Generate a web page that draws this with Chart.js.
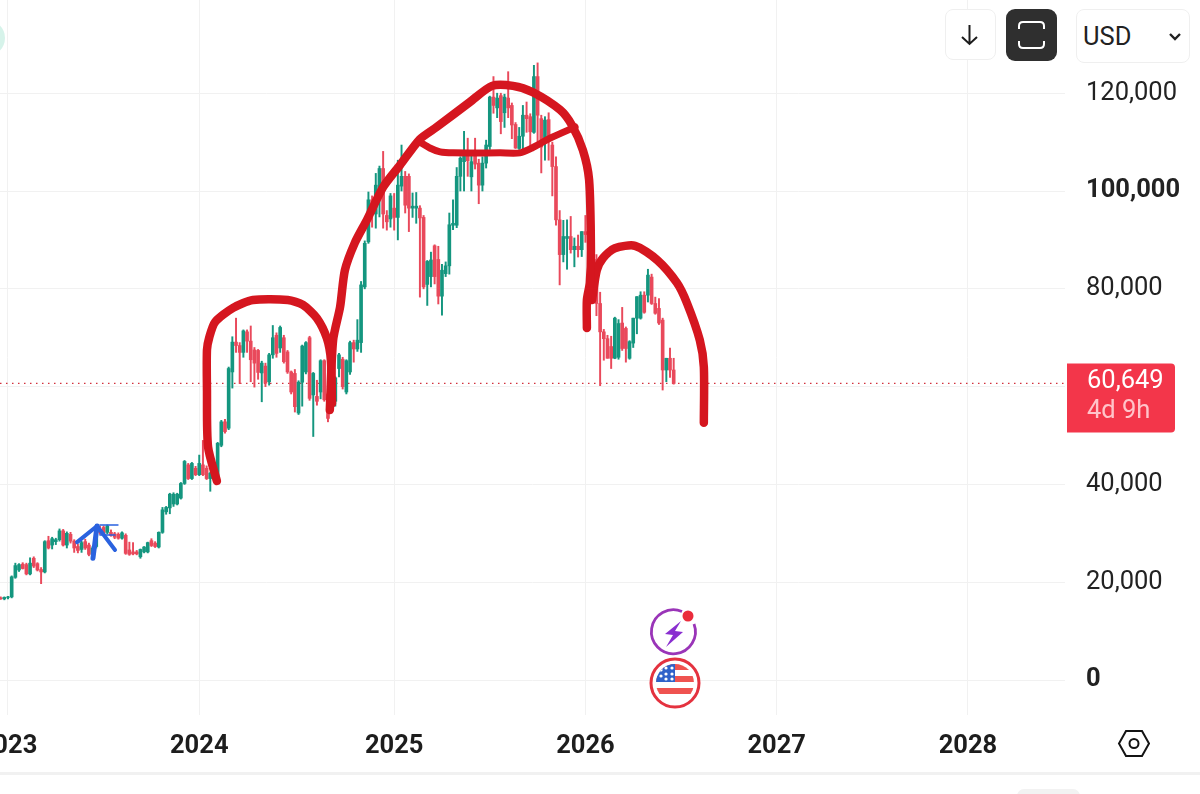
<!DOCTYPE html>
<html>
<head>
<meta charset="utf-8">
<title>BTC USD weekly</title>
<script src="https://cdn.jsdelivr.net/npm/chart.js@4"></script>
<style>
    html, body { margin: 0; padding: 0; background: #fff; overflow: hidden; }
    #wrap { position: relative; width: 1200px; height: 794px; overflow: hidden; font-family: Roboto, sans-serif; }
    canvas { position: absolute; left: 0; top: 0; }
    .btn { position: absolute; box-sizing: border-box; background: #fff; border: 1.5px solid #efefef; border-radius: 8px; }
    .overlay { position: absolute; }
    #bottomRule { position: absolute; left: 0; top: 772px; width: 1200px; height: 3px; background: #f1f1f1; }
    #bottomPill { position: absolute; left: 1017px; top: 789px; width: 63px; height: 14px; border-radius: 8px; background: #f2f2f2; }
    #blob { position: absolute; left: -31px; top: 20px; width: 36px; height: 36px; border-radius: 50%; background: #d6f3ea; }
    #usd { font-size: 25.5px; color: #222; line-height: 53px; padding-left: 6px; }
</style>
</head>
<body>
<div id="wrap">
    <canvas id="chart" width="1200" height="794"></canvas>
    <div id="blob"></div>
    <div id="bottomRule"></div>
    <div id="bottomPill"></div>

    <div class="btn" style="left:945px;top:9px;width:51px;height:51px;">
        <svg width="48" height="48" style="display:block"><path d="M23.5 15 V34 M16 27 L23.5 34 L31 27" fill="none" stroke="#1c1c1c" stroke-width="2"/></svg>
    </div>
    <div class="btn" style="left:1006px;top:9px;width:51px;height:52px;background:#2f2f2f;border:none;border-radius:9px;">
        <svg width="51" height="52" style="display:block"><path d="M13 20 V17 Q13 13 17 13 H34 Q38 13 38 17 V20 M13 32 V35 Q13 39 17 39 H34 Q38 39 38 35 V32" fill="none" stroke="#fff" stroke-width="2"/></svg>
    </div>
    <div class="btn" id="usd" style="left:1076px;top:9px;width:114px;height:54px;">USD
        <svg width="14" height="10" style="position:absolute;left:91px;top:22px"><path d="M2 2 L7 7 L12 2" fill="none" stroke="#222" stroke-width="2.4"/></svg>
    </div>

    <svg class="overlay" style="left:645px;top:605px" width="60" height="110">
        <path d="M37 6.5 A22 22 0 1 0 49 19" fill="none" stroke="#9a35b8" stroke-width="2.8"/>
        <circle cx="43" cy="11" r="5.5" fill="#ea2c3c"/>
        <path d="M36 16 L20 29 L28 30 L21 42 L38 27 L30 26 Z" fill="#8a2fd0"/>
        <circle cx="30" cy="78" r="24" fill="#fff" stroke="#e4323f" stroke-width="3"/>
        <clipPath id="flagClip"><circle cx="30" cy="78" r="19"/></clipPath>
        <g clip-path="url(#flagClip)">
            <rect x="10" y="58" width="40" height="40" fill="#fff"/>
            <rect x="10" y="59" width="40" height="6" fill="#ef5350"/>
            <rect x="10" y="71" width="40" height="6" fill="#ef5350"/>
            <rect x="10" y="83" width="40" height="6" fill="#ef5350"/>
            <rect x="10" y="59" width="20" height="18" fill="#2f62c9"/>
            <g fill="#fff">
                <circle cx="16" cy="65" r="1.6"/><circle cx="21" cy="63" r="1.6"/><circle cx="27" cy="63" r="1.6"/>
                <circle cx="16" cy="71" r="1.6"/><circle cx="21" cy="69" r="1.6"/><circle cx="27" cy="69" r="1.6"/>
                <circle cx="21" cy="74" r="1.6"/><circle cx="27" cy="74" r="1.6"/>
            </g>
        </g>
    </svg>

    <svg class="overlay" style="left:1115px;top:727px" width="38" height="34">
        <path d="M11 4 H27 L34 16.500 L27 29 H11 L4 16.500 Z" fill="none" stroke="#141414" stroke-width="2"/>
        <circle cx="19" cy="16.500" r="4.500" fill="none" stroke="#141414" stroke-width="2"/>
    </svg>
</div>

<script>
// weekly candles, first one sits two weeks before the 2023 tick
const firstWeek = -2;

const opens = [
    16800,16600,16900,17000,21000,22500,23700,23600,21700,24900,
    23800,22600,22100,28500,27600,28300,28700,30500,27600,29800,
    28400,27300,26700,28300,27600,25700,27300,30800,31200,30200,
    30200,29900,29800,29000,29600,26600,26200,26200,25200,26200,
    26200,28500,28000,27200,30200,34400,35200,36000,36000,37200,
    40200,44000,41200,43300,42000,44000,43300,41200,42300,41000,
    48000,52800,51500,63000,69100,68400,67000,71200,69300,67500,
    67400,62800,64200,61000,66500,70500,67900,70000,67100,63000,
    62700,54600,60900,63000,70000,58300,58000,58900,65300,58500,
    55500,57000,63700,65600,58900,63000,69000,67700,69000,80400,
    89600,98200,95300,99500,104600,95000,94300,96500,94600,101000,
    103000,103000,96500,96500,96500,94600,80900,82500,88800,86000,
    78500,83100,84700,93000,93000,103000,106000,107900,102900,107900,
    105700,101200,105700,109100,119200,117000,119500,116000,119000,117500,
    113600,108700,111200,115500,115200,112000,123400,114800,110400,114600,
    109400,105000,94100,87000,90300,90700,88000,88700,88000,91700,
    91000,88000,86000,77000,71200,69800,68200,65800,66000,73000,
    71900,65800,68900,74000,74000,78700,78700,82400,77000,76000,
    73600,63400,65800,63400
];
const highs = [
    17000,17000,17100,21300,23900,23800,24000,23900,25000,25200,
    24000,23000,28500,29400,29200,29000,30900,30800,30300,30200,
    28700,27800,28400,28800,28000,27300,31200,31500,31500,31700,
    30700,30200,30100,30300,29900,28200,28100,26500,26800,27300,
    28200,28900,28300,30300,35300,35500,38200,38300,38200,40400,
    44900,44300,44500,43700,46000,49000,43800,42500,42800,48600,
    53100,53300,64000,70200,74000,69000,71600,71600,72400,68000,
    67600,65200,64800,66800,72500,71000,72400,70500,67400,63200,
    63500,61200,68500,69200,70300,62900,61300,65500,65500,64000,
    57200,62000,66800,66000,65500,69300,69500,73700,81500,89800,
    99800,99000,103600,105100,108100,96000,99500,99500,106300,109400,
    104000,103500,99600,99700,97000,95000,85800,87500,89000,88700,
    85000,85500,95500,98200,104800,107000,112200,110800,108000,110800,
    106500,107000,110400,119400,123400,120000,120000,119800,124400,118000,
    114000,113000,117500,118200,115800,125700,126200,115500,115200,116000,
    110000,107000,96000,94000,94100,94800,90400,91000,91700,95000,
    91500,88500,87000,79300,71700,70500,70300,74200,73700,76200,
    72200,69400,74000,78400,79400,79400,84000,83000,78300,78000,
    74000,65800,67900,65800
];
const lows = [
    16500,16400,16600,16800,20800,22200,22700,21500,21500,23000,
    22300,19700,21900,26800,26800,27700,28400,27400,27000,28000,
    26100,26000,26100,26700,25400,25000,27000,29800,29800,29900,
    29400,28900,28800,28800,25700,25500,25600,25600,24900,26000,
    26000,27300,27100,27000,30000,33900,34000,35500,35800,37000,
    40000,41000,41000,41800,41800,41800,41000,38600,41800,40900,
    47700,50500,51200,59700,67000,60600,66000,67000,61000,59900,
    61500,56900,60000,60300,65800,66000,67000,64800,62700,58500,
    54800,54300,56000,62600,57200,49800,56200,57500,57000,52800,
    55000,56000,62000,59500,58500,62500,65000,67200,67000,80000,
    89300,92600,92400,94700,92400,92000,92600,92000,90000,100000,
    95500,91700,94600,93400,78300,80000,76600,80400,81000,76900,
    74600,82500,83000,92100,92500,100000,100000,103000,100000,104500,
    97400,100000,104700,108500,115900,115000,111700,113000,115000,110700,
    108700,108500,108300,112000,109100,111800,109500,103700,106300,106300,
    99000,93000,80800,85500,84000,87300,84500,86500,86600,89500,
    87500,85000,74500,60200,65400,65800,63700,65700,65600,67400,
    65000,65600,68000,70800,73800,75000,77300,76800,74800,72700,
    59300,61000,61900,60500
];
const closes = [
    16600,16900,17000,21100,23400,23600,22800,21700,23900,23300,
    22500,22100,28300,27000,28900,28700,30500,27600,30000,28400,
    27000,26500,28100,27000,25700,27000,31000,30200,30000,31500,
    29600,29200,29000,30100,25900,25700,25800,25800,26700,27200,
    28100,27500,27300,30200,34800,35300,38000,38000,38000,40200,
    44700,41200,44300,42000,44300,42000,41200,42300,42600,48400,
    52800,50800,63700,69100,68400,67000,71400,69300,65500,64800,
    62900,64800,60700,66500,70000,66800,72100,65100,63000,58900,
    55900,60900,68300,69000,57600,62700,57000,65300,57300,53500,
    57000,61800,66500,60000,65300,69000,67700,69500,80800,89300,
    98200,95300,101200,104600,95300,93700,99000,94600,101200,103000,
    97100,96500,96900,96900,94500,80400,85600,85900,82500,78500,
    83800,84700,93100,93400,103000,106700,107300,106200,106000,105500,
    101200,105700,109400,119200,117500,119000,114200,119200,117000,113500,
    108800,111200,115500,114800,112100,123400,115500,109000,114500,110400,
    105000,94100,87000,90700,90700,88000,88700,88000,91700,91100,
    88000,86000,77000,71200,69800,65800,65800,74000,72900,67800,
    67800,69200,74000,78400,78700,75200,82800,77000,75000,73000,
    63400,65800,63400,60649
];

const yearTicks = [0, 52, 105, 157, 209, 261];
const yearLabels = ['2023', '2024', '2025', '2026', '2027', '2028'];
const priceTicks = [0, 20000, 40000, 60000, 80000, 100000, 120000];
const boldPrices = [0, 100000];
const lastPrice = closes[closes.length - 1];
const timeLeft = '4d 9h';

// hand drawn marker strokes, as [week, price]
const arcLeft = [
    [56.8,40700],[54.4,47650],[54.1,59300],[54.1,67500],[54.7,70000],[56.3,73200],[61.2,76100],[66.6,77700],
    [76.1,77700],[80.2,76700],[84.0,74000],[86.7,69900],[87.8,65400],[88.1,56600]
];
const arcMain = [
    [87.5,55200],[88.4,69500],[90.3,76300],[91.6,83800],[94.3,89400],[97.6,94100],[102,100800],
    [106.6,105300],[112,110600],[116.6,113100],[125.6,118200],[131.6,121500],[137.3,121500],
    [142.7,120200],[150.1,116600],[153.3,113500],[156.3,108400],[158,102300],[158.5,87900],
    [158.2,81200],[157.4,77700],[157.4,72000]
];
const arcInner = [
    [112,110000],[114.7,108800],[117.5,108000],[121,107800],[133.8,107800],[139.2,107800],
    [142.5,108800],[147.4,110800],[154.2,113100]
];
const arcRight = [
    [158.8,77700],[160.1,83800],[161.8,86300],[165,88300],[170.5,88800],[176.5,85900],
    [181.9,81200],[184.6,77100],[188.1,69500],[189.2,64000],[189.2,52600]
];
const arrowShaft = [[23.1,24900],[24.2,31500]];
const arrowLeft = [[18.8,28200],[24.2,31500]];
const arrowRight = [[29.1,26600],[24.2,31500]];
const arrowTop = [[25,31700],[29.9,31700]];
const arrowMid = [[25,29650],[29.1,29650]];

const xMin = -2.175, xMax = 287.4;
const yMin = -7150, yMax = 139060;

const GREEN = '#14967f';
const RED = '#e9495b';
const STROKE_RED = '#d5161f';
const ARROW_BLUE = '#2a62df';

const weeks = opens.map((v, i) => firstWeek + i);
const candleColors = opens.map((v, i) => closes[i] >= v ? GREEN : RED);

function toPoints(rows) {
    return rows.map(r => ({ x: r[0], y: r[1] }));
}

function strokeSet(rows, color, width, tension) {
    return {
        type: 'line',
        data: toPoints(rows),
        borderColor: color,
        borderWidth: width,
        borderCapStyle: 'round',
        borderJoinStyle: 'round',
        tension: tension,
        pointRadius: 0,
        order: 0
    };
}

// price tag sits on the right axis, at the level of the last close
const priceTag = {
    id: 'priceTag',
    afterDraw(chart) {
        const ctx = chart.ctx;
        const y = chart.scales.y.getPixelForValue(lastPrice);
        ctx.save();
        ctx.fillStyle = '#f3364a';
        ctx.beginPath();
        ctx.roundRect(1067, y - 20, 108, 69, [0, 4, 4, 0]);
        ctx.fill();
        ctx.font = '25.5px Roboto';
        ctx.textBaseline = 'middle';
        ctx.fillStyle = '#fff';
        ctx.fillText(lastPrice.toLocaleString('en-US'), 1087, y - 2);
        ctx.fillStyle = '#ffc4ca';
        ctx.fillText(timeLeft, 1087, y + 28);
        ctx.restore();
    }
};

new Chart(document.getElementById('chart').getContext('2d'), {
    type: 'bar',
    plugins: [priceTag],
    data: {
        datasets: [
            strokeSet(arcLeft, STROKE_RED, 8.5, 0.25),
            strokeSet(arcMain, STROKE_RED, 8.5, 0.25),
            strokeSet(arcInner, STROKE_RED, 7, 0.25),
            strokeSet(arcRight, STROKE_RED, 8.5, 0.25),
            strokeSet(arrowShaft, ARROW_BLUE, 5, 0),
            strokeSet(arrowLeft, ARROW_BLUE, 4, 0),
            strokeSet(arrowRight, ARROW_BLUE, 4, 0),
            strokeSet(arrowTop, ARROW_BLUE, 1.5, 0),
            strokeSet(arrowMid, ARROW_BLUE, 1.5, 0),
            {
                type: 'line',
                data: [{ x: xMin, y: lastPrice }, { x: xMax, y: lastPrice }],
                borderColor: '#d2303d',
                borderWidth: 1.3,
                borderDash: [1.5, 4.5],
                pointRadius: 0,
                order: 3
            },
            {
                data: weeks.map((w, i) => ({ x: w, y: [opens[i], closes[i]] })),
                backgroundColor: candleColors,
                barThickness: 3,
                grouped: false,
                order: 1
            },
            {
                data: weeks.map((w, i) => ({ x: w, y: [lows[i], highs[i]] })),
                backgroundColor: candleColors,
                barThickness: 1.3,
                grouped: false,
                order: 2
            }
        ]
    },
    options: {
        responsive: false,
        animation: false,
        layout: { padding: { left: 0, right: 0, top: 0, bottom: 21 } },
        plugins: { legend: { display: false }, tooltip: { enabled: false } },
        scales: {
            x: {
                type: 'linear',
                min: xMin,
                max: xMax,
                offset: false,
                border: { display: false },
                grid: { color: '#f1f1f1', drawTicks: false, offset: false },
                afterBuildTicks(scale) {
                    scale.ticks = yearTicks.map(v => ({ value: v }));
                },
                afterFit(scale) {
                    scale.height = 58;
                    scale.paddingLeft = 0;
                    scale.paddingRight = 0;
                },
                ticks: {
                    autoSkip: false,
                    maxRotation: 0,
                    padding: 16,
                    color: '#1d1d1d',
                    font: { family: 'Roboto', size: 25.5, weight: 'bold' },
                    callback: v => yearLabels[yearTicks.indexOf(v)]
                }
            },
            y: {
                position: 'right',
                min: yMin,
                max: yMax,
                border: { display: false },
                grid: { color: '#f1f1f1', drawTicks: false },
                afterBuildTicks(scale) {
                    scale.ticks = priceTicks.map(v => ({ value: v }));
                },
                afterFit(scale) {
                    scale.width = 135;
                    scale.paddingTop = 0;
                    scale.paddingBottom = 0;
                },
                ticks: {
                    padding: 21,
                    color: '#222',
                    font: ctx => ({
                        family: 'Roboto',
                        size: 25.5,
                        weight: ctx.tick && boldPrices.includes(ctx.tick.value) ? 'bold' : 'normal'
                    }),
                    callback: v => v.toLocaleString('en-US')
                }
            }
        }
    }
});
</script>
</body>
</html>
